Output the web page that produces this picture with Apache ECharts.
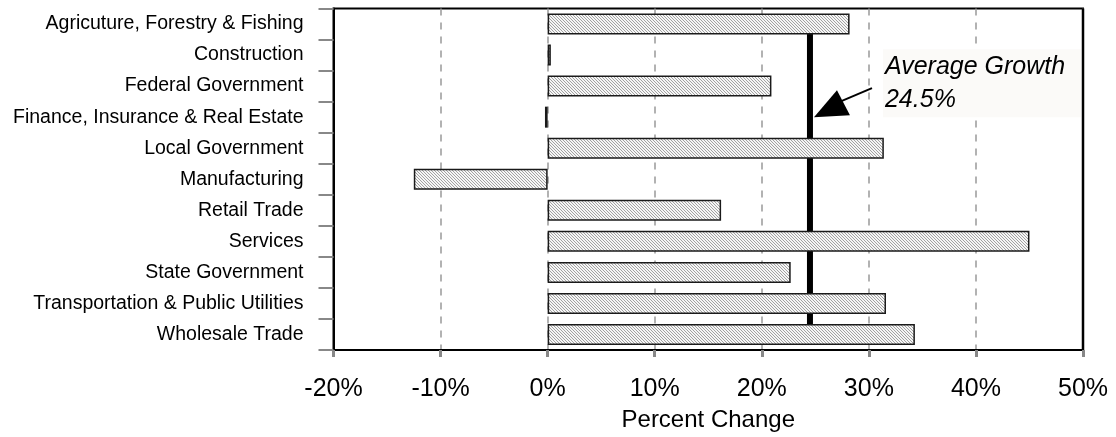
<!DOCTYPE html>
<html>
<head>
<meta charset="utf-8">
<script src="https://cdn.jsdelivr.net/npm/echarts@6/dist/echarts.min.js"></script>
<style>
  html, body { margin: 0; padding: 0; background: #fff; }
  #chart { width: 1116px; height: 437px; }
</style>
</head>
<body>
<div id="chart"></div>
<script>
// Employment growth by industry sector
const industries = [
  'Agricuture, Forestry & Fishing',
  'Construction',
  'Federal Government',
  'Finance, Insurance & Real Estate',
  'Local Government',
  'Manufacturing',
  'Retail Trade',
  'Services',
  'State Government',
  'Transportation & Public Utilities',
  'Wholesale Trade'
];
const percentChange = [28.2, 0.3, 20.9, -0.25, 31.4, -12.5, 16.2, 45.0, 22.7, 31.6, 34.3];
const averageGrowth = 24.5;
const xTicks = { min: -20, max: 50, step: 10 };
const annotationLines = ['Average Growth', averageGrowth.toFixed(1) + '%'];

const FONT = '"Liberation Sans", Arial, sans-serif';

// Fine diagonal hatching used as the bar fill
function hatch() {
  const c = document.createElement('canvas');
  c.width = 3; c.height = 3;
  const g = c.getContext('2d');
  g.fillStyle = '#f6f6f6';
  g.fillRect(0, 0, 3, 3);
  g.fillStyle = '#a2a2a2';
  for (let i = 0; i < 3; i++) g.fillRect(i, i, 1, 1);
  return c;
}

const chart = echarts.init(document.getElementById('chart'), null, { renderer: 'canvas' });

chart.setOption({
  animation: false,
  grid: {
    left: 333.5, right: 33, top: 8.5, bottom: 82.5,
    show: true, borderColor: '#000', borderWidth: 2, backgroundColor: 'transparent'
  },
  xAxis: {
    type: 'value',
    min: xTicks.min, max: xTicks.max, interval: xTicks.step,
    name: 'Percent Change',
    nameLocation: 'middle',
    nameGap: 58,
    nameTextStyle: { fontFamily: FONT, fontSize: 24, color: '#000' },
    axisLine: { show: true, onZero: false, lineStyle: { color: '#000', width: 2 } },
    axisTick: { show: true, length: 7, lineStyle: { color: '#888', width: 3 } },
    axisLabel: { formatter: '{value}%', fontFamily: FONT, fontSize: 25, color: '#000', margin: 27 },
    splitLine: { show: true, lineStyle: { color: '#999', width: 1.5, type: [7, 7] } }
  },
  yAxis: {
    type: 'category',
    data: industries,
    inverse: true,
    axisLine: { show: true, onZero: false, lineStyle: { color: '#000', width: 2 } },
    axisTick: { show: true, length: 15, lineStyle: { color: '#888', width: 2 } },
    axisLabel: { fontFamily: FONT, fontSize: 19.5, color: '#000', margin: 30 },
    splitLine: { show: false }
  },
  series: [
    {
      // average growth reference bar, drawn beneath the sector bars
      type: 'line',
      z: 1,
      symbol: 'none',
      silent: true,
      lineStyle: { color: '#000', width: 6 },
      data: [[averageGrowth, 0], [averageGrowth, industries.length - 1]]
    },
    {
      type: 'bar',
      z: 3,
      barWidth: 21,
      itemStyle: {
        color: { image: hatch(), repeat: 'repeat' },
        borderColor: '#1a1a1a',
        borderWidth: 1.5
      },
      data: percentChange
    }
  ]
});

// Solid frame edge on the right, over the last dashed grid line
const rect = chart.getModel().getComponent('grid', 0).coordinateSystem.getRect();
const rightX = rect.x + rect.width;

// Callout pointing at the average line
const tip = chart.convertToPixel({ gridIndex: 0 }, [averageGrowth, 3]);
const tx = tip[0] + 4, ty = tip[1];
chart.setOption({
  graphic: [
    {
      type: 'line',
      shape: { x1: rightX, y1: rect.y, x2: rightX, y2: rect.y + rect.height },
      style: { stroke: '#000', lineWidth: 2.5 },
      z: 12
    },
    {
      type: 'rect',
      shape: { x: tx + 69, y: ty - 68, width: 198, height: 68 },
      style: { fill: '#fbfaf8' },
      z: 10
    },
    {
      type: 'text',
      x: tx + 71, y: ty - 67,
      style: {
        text: annotationLines.join('\n'),
        font: 'italic 25px ' + FONT,
        lineHeight: 33,
        fill: '#000'
      },
      z: 11
    },
    {
      type: 'line',
      shape: { x1: tx + 58, y1: ty - 29, x2: tx + 25, y2: ty - 15 },
      style: { stroke: '#000', lineWidth: 2 },
      z: 11
    },
    {
      type: 'polygon',
      shape: { points: [[tx, ty], [tx + 23, ty - 27], [tx + 36, ty - 2]] },
      style: { fill: '#000' },
      z: 11
    }
  ]
});
</script>
</body>
</html>
